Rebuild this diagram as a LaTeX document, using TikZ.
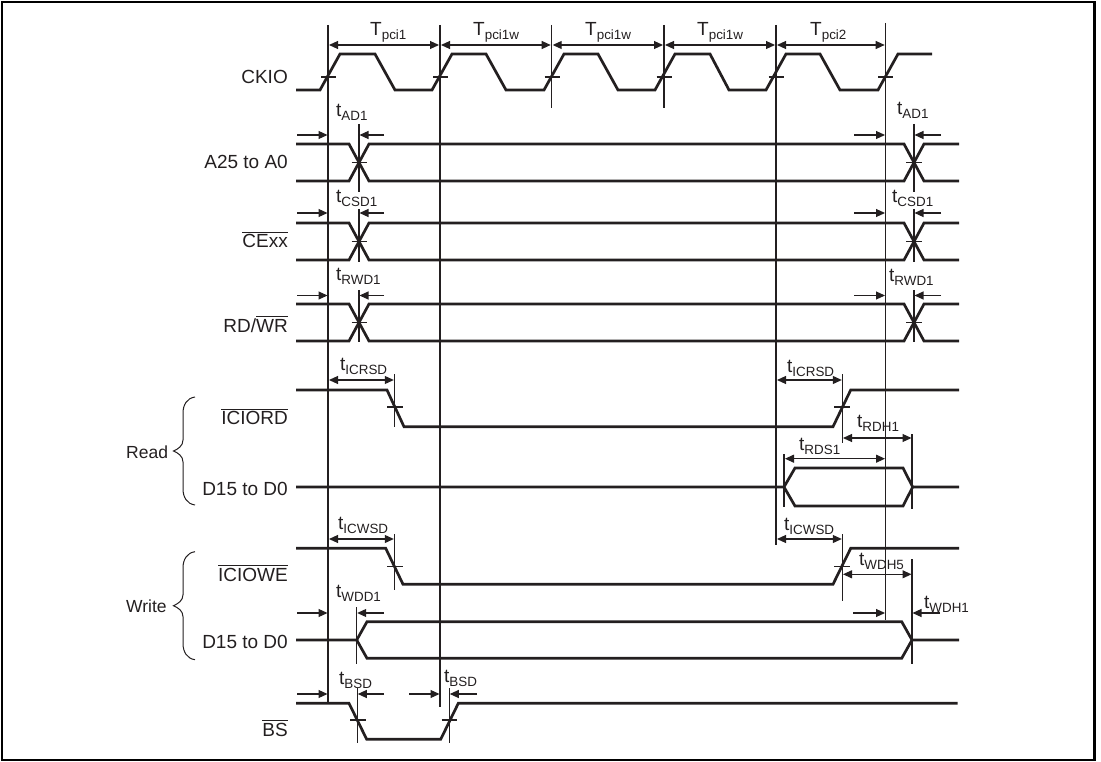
\documentclass[tikz,border=0pt]{standalone}
\usepackage{fontspec}
\setmainfont{Liberation Sans}
\usetikzlibrary{arrows.meta}
\definecolor{ink}{HTML}{231F20}
\newcommand\ovl[1]{\vbox{\hrule height 1pt \kern 1.6pt \hbox{#1}}}
\newcommand\lab[2]{{\fontsize{#1}{#1}\selectfont #2}}
\newcommand\tsb[2]{\lab{19}{#1}\raisebox{-4pt}{\lab{13.4}{#2}}}
\tikzset{
  x=1pt,y=-1pt,
  frame/.style={draw=black,line width=2.8pt},
  sig/.style={draw=ink,line width=2.7pt,line join=miter},
  thin/.style={draw=ink,line width=1.25pt},
  dim/.style={draw=ink,line width=1.1pt,-{Triangle[length=9pt,width=8pt]}},
  ddim/.style={draw=ink,line width=1.1pt,{Triangle[length=9pt,width=8pt]}-{Triangle[length=9pt,width=8pt]}},
  tl/.style={anchor=base west,inner sep=0pt,text=ink},
  sl/.style={anchor=base east,inner sep=0pt,text=ink,font=\fontsize{19}{19}\selectfont},
  gl/.style={anchor=base west,inner sep=0pt,text=ink,font=\fontsize{17.5}{17.5}\selectfont},
  brace/.style={draw=ink,line width=1pt},
}
\begin{document}
\begin{tikzpicture}
\useasboundingbox (0,0) rectangle (1101,762);
\draw[frame] (2,2) rectangle (1094.5,760);
% verticals
\draw[thin] (328,25) -- (328,703);
\draw[thin] (440,25) -- (440,707);
\draw[thin] (551.7,25) -- (551.7,108);
\draw[thin] (664,25) -- (664,108);
\draw[thin] (776,25) -- (776,545);
\draw[thin] (885.7,23) -- (885.7,620);
% period arrows
\foreach \a/\b in {328/440,440/551.7,551.7/664,664/776,776/885.7}
  \draw[ddim] (\a+1,45) -- (\b-1,45);
\node[tl] (tp1) at (370,36) {\tsb{T}{pci1}};
\node[tl] (tp2) at (473,36) {\tsb{T}{pci1w}};
\node[tl] (tp3) at (585,36) {\tsb{T}{pci1w}};
\node[tl] (tp4) at (697,36) {\tsb{T}{pci1w}};
\node[tl] (tp5) at (810,36) {\tsb{T}{pci2}};
% CKIO
\draw[sig] (296,90) -- (320,90) -- (340,54) -- (375,54) -- (395,90)
  -- (432,90) -- (452,54) -- (486,54) -- (506,90)
  -- (544,90) -- (564,54) -- (598,54) -- (618,90)
  -- (655,90) -- (675,54) -- (710,54) -- (729,90)
  -- (766,90) -- (786,54) -- (820,54) -- (840,90)
  -- (878,90) -- (898,54) -- (932,54);
\foreach \x in {321,433,544.7,656.7,768.7,878}
  \draw[thin] (\x,77) -- (\x+15,77);
% A25, CE, RD bus signals
\foreach \t/\m/\b/\vt/\vb/\ay in {144/162.5/181/124/192/135, 223/241.5/260/209/262/213, 304/322.5/341/290/342/295.5}{
  \draw[sig] (296,\t) -- (349,\t) -- (369,\b) -- (904,\b) -- (924,\t) -- (959,\t);
  \draw[sig] (296,\b) -- (349,\b) -- (369,\t) -- (904,\t) -- (924,\b) -- (959,\b);
  \draw[thin] (351.5,\m) -- (366.5,\m);
  \draw[thin] (906,\m) -- (922,\m);
  \draw[thin] (359,\vt) -- (359,\vb);
  \draw[thin] (914,\vt) -- (914,\vb);
  \draw[dim] (297,\ay) -- (327.5,\ay);
  \draw[dim] (384,\ay) -- (359.5,\ay);
  \draw[dim] (854,\ay) -- (885,\ay);
  \draw[dim] (941,\ay) -- (914.5,\ay);
}
\node[tl] (ad1l) at (336,117) {\tsb{t}{AD1}};
\node[tl] (ad1r) at (897,115) {\tsb{t}{AD1}};
\node[tl] (cs1l) at (336,203) {\tsb{t}{CSD1}};
\node[tl] (cs1r) at (892,203) {\tsb{t}{CSD1}};
\node[tl] (rw1l) at (336,280) {\tsb{t}{RWD1}};
\node[tl] (rw1r) at (889,282) {\tsb{t}{RWD1}};
% ICIORD
\draw[sig] (296,390) -- (387,390) -- (404,426.7) -- (833,426.7) -- (850.7,390) -- (959,390);
\draw[thin] (387,407) -- (403,407);
\draw[thin] (834,407) -- (850,407);
\draw[thin] (394.3,374) -- (394.3,427);
\draw[thin] (842.3,374) -- (842.3,443);
\draw[ddim] (329,380) -- (393.8,380);
\draw[ddim] (777,380) -- (841.8,380);
\node[tl] (icr1) at (340,370) {\tsb{t}{ICRSD}};
\node[tl] (icr2) at (787,372) {\tsb{t}{ICRSD}};
% D15 read
\draw[sig] (296,487) -- (784,487) -- (795,468) -- (903,468) -- (912.7,487) -- (959,487);
\draw[sig] (784,487) -- (795,506) -- (903,506) -- (912.7,487);
\draw[thin] (784,454) -- (784,507);
\draw[thin] (912,434) -- (912,509);
\draw[ddim] (843,438) -- (911.5,438);
\draw[ddim] (785,458.7) -- (885,458.7);
\node[tl] (rdh) at (857,427) {\tsb{t}{RDH1}};
\node[tl] (rds) at (799,450) {\tsb{t}{RDS1}};
% ICIOWE
\draw[sig] (296,548.3) -- (385.7,548.3) -- (403,584.3) -- (833,584.3) -- (850.7,548.3) -- (959,548.3);
\draw[thin] (387,566.7) -- (403,566.7);
\draw[thin] (834,566.7) -- (850,566.7);
\draw[thin] (394.3,534) -- (394.3,590);
\draw[thin] (842.3,534) -- (842.3,601);
\draw[ddim] (329,539) -- (393.8,539);
\draw[ddim] (777,539) -- (841.8,539);
\node[tl] (icw1) at (338,529) {\tsb{t}{ICWSD}};
\node[tl] (icw2) at (784,530) {\tsb{t}{ICWSD}};
\draw[ddim] (843,574.3) -- (911.5,574.3);
\draw[thin] (912,559) -- (912,664);
\node[tl] (wdh5) at (859,565) {\tsb{t}{WDH5}};
% D15 write
\draw[sig] (296,640) -- (356.7,640) -- (367,621.7) -- (901.7,621.7) -- (912,640) -- (959,640);
\draw[sig] (356.7,640) -- (367,658.3) -- (901.7,658.3) -- (912,640);
\draw[thin] (356.7,607) -- (356.7,664);
\draw[dim] (297,613) -- (327.5,613);
\draw[dim] (384,613) -- (357.2,613);
\draw[dim] (853,613) -- (885,613);
\draw[dim] (940,613) -- (912.5,613);
\node[tl] (wdd) at (336,597.5) {\tsb{t}{WDD1}};
\node[tl] (wdh1) at (924,608) {\tsb{t}{WDH1}};
% BS
\draw[sig] (296,703.3) -- (349,703.3) -- (366.7,739.3) -- (440.7,739.3) -- (458.3,703.3) -- (957.7,703.3);
\draw[thin] (350,720) -- (365.7,720);
\draw[thin] (441.7,720) -- (457,720);
\draw[thin] (357.3,688) -- (357.3,743);
\draw[thin] (449.3,688) -- (449.3,743);
\draw[dim] (297,694) -- (327.5,694);
\draw[dim] (384,694) -- (357.8,694);
\draw[dim] (409,694) -- (439.5,694);
\draw[dim] (477,694) -- (449.8,694);
\node[tl] (bs1) at (339,684) {\tsb{t}{BSD}};
\node[tl] (bs2) at (444,682) {\tsb{t}{BSD}};
% signal names
\node[sl] (nck) at (288,84) {CKIO};
\node[sl] (na) at (288,169) {A25 to A0};
\node[sl] (nce) at (288,247.5) {\ovl{CExx}};
\node[sl] (nrd) at (288,332) {RD/\ovl{WR}};
\node[sl] (nrdn) at (288,424.5) {\ovl{ICIORD}};
\node[sl] (nd1) at (288,495) {D15 to D0};
\node[sl] (nwe) at (288,581) {\ovl{ICIOWE}};
\node[sl] (nd2) at (288,648) {D15 to D0};
\node[sl] (nbs) at (288,736) {\ovl{BS}};
\node[gl] (rd) at (126,458) {Read};
\node[gl] (wr) at (126,612) {Write};
% braces
\foreach \m in {451,605.7}{
  \draw[brace] (195,\m-54) .. controls (187,\m-53) and (183,\m-46) .. (183,\m-38)
    -- (183,\m-11) .. controls (183,\m-5) and (178,\m-2) .. (173.5,\m)
    .. controls (178,\m+2) and (183,\m+5) .. (183,\m+11)
    -- (183,\m+38) .. controls (183,\m+46) and (187,\m+53) .. (195,\m+54);
}
\end{tikzpicture}
\end{document}
